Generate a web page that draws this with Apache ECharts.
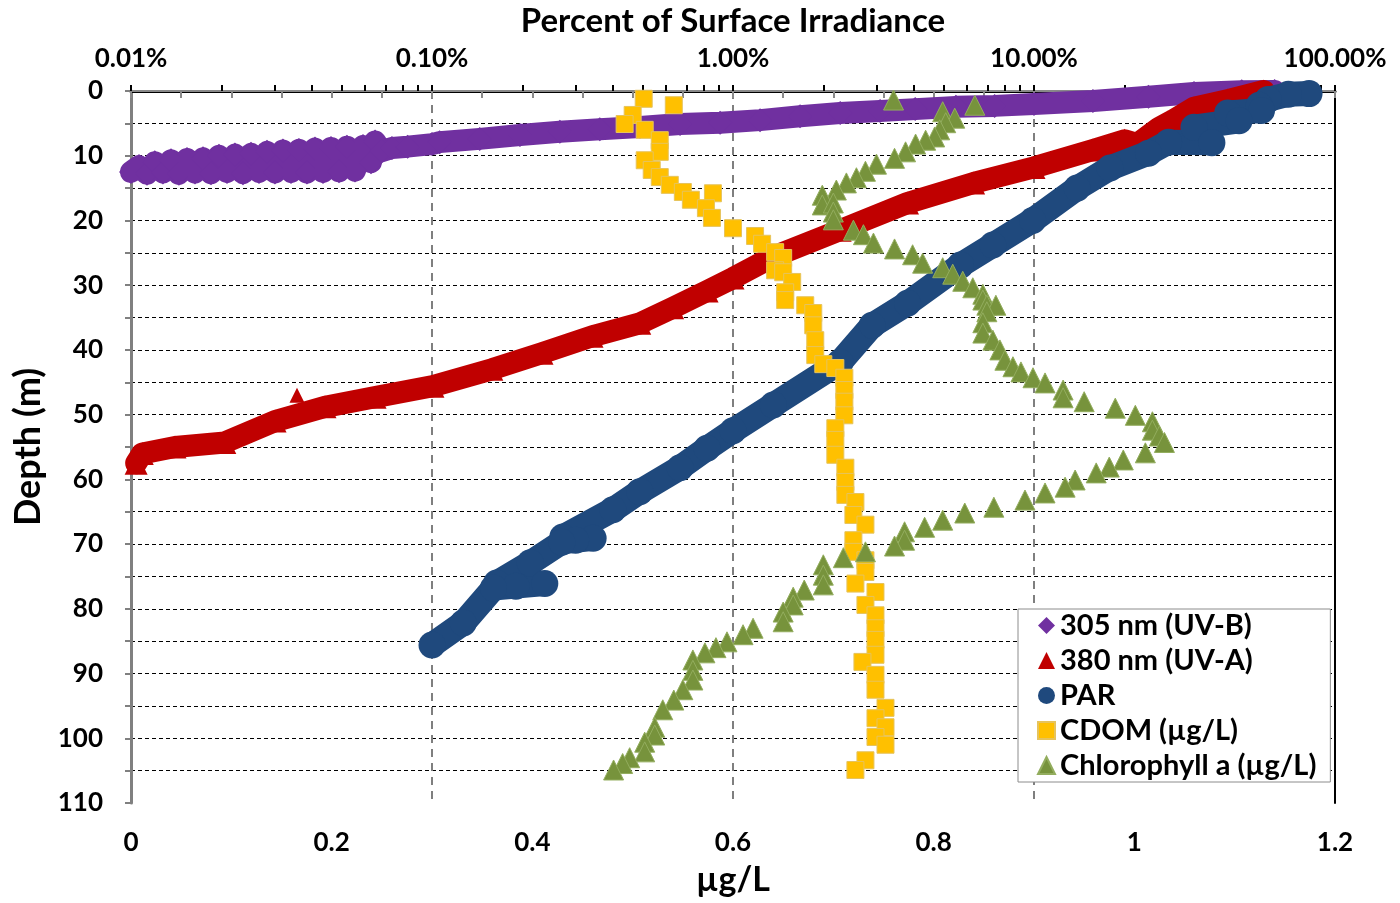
<!DOCTYPE html>
<html>
<head>
<meta charset="utf-8">
<title>Percent of Surface Irradiance</title>
<script src="https://cdn.jsdelivr.net/npm/echarts@6.0.0/dist/echarts.min.js"></script>
<style>
  html, body { margin: 0; padding: 0; background: #fff; }
  #chart { width: 1400px; height: 903px; }
</style>
</head>
<body>
<div id="chart"></div>
<script>
// legend names
const seriesNames = ['305 nm (UV-B)', '380 nm (UV-A)', 'PAR', 'CDOM (\u00b5g/L)', 'Chlorophyll a (\u00b5g/L)']

// top axis ticks (percent of surface irradiance, log)
const topTickValues = [0.01, 0.1, 1, 10, 100]
const topTickLabels = ['0.01%', '0.10%', '1.00%', '10.00%', '100.00%']

// irradiance profiles: [percent, depth m]
const uvbProfile = [
  [0.0100, 12.5], [0.01063, 11.6], [0.0113, 12.8], [0.0120, 11.0], [0.01277, 12.6], [0.01358, 10.7],
  [0.01443, 12.8], [0.01535, 10.5], [0.01632, 12.6], [0.01735, 10.4], [0.01844, 12.7], [0.0196, 10.0],
  [0.02084, 12.5], [0.02215, 9.8], [0.02355, 12.7], [0.02504, 9.7], [0.02662, 12.5], [0.0283, 9.4],
  [0.03008, 12.6], [0.03198, 9.2], [0.034, 12.5], [0.03614, 9.1], [0.03842, 12.6], [0.04085, 8.9],
  [0.04343, 12.5], [0.04617, 8.8], [0.04909, 12.4], [0.05218, 8.6], [0.05548, 12.3], [0.05898, 8.5],
  [0.0627, 11.0], [0.0647, 7.8], [0.068, 9.3], [0.0736, 8.8], [0.083, 8.6], [0.100, 8.2],
  [0.106, 7.9], [0.144, 7.4], [0.196, 6.8], [0.266, 6.3], [0.361, 5.9], [0.491, 5.55], [0.667, 5.1],
  [0.906, 4.9], [1.23, 4.5], [1.67, 3.9], [2.27, 3.4], [3.08, 3.1], [4.03, 2.8], [5.5, 2.45],
  [7.4, 2.3], [10, 2.0], [15.7, 1.55], [24, 0.9], [34, 0.3], [49, 0.05], [63, 0.0]
]
const uvaProfile = [
  [58, 0], [44, 1.4], [34, 2.6], [29, 4.5], [26, 5.7], [22, 8.2], [20, 7.6], [15.7, 9.1],
  [10, 11.8], [6.3, 14.2], [3.8, 17.3], [2.27, 21.5], [1.36, 25.6], [1.0, 28.9], [0.82, 30.9],
  [0.63, 33.5], [0.49, 35.9], [0.34, 37.9], [0.232, 40.5], [0.158, 43.0], [0.1007, 45.6],
  [0.0647, 47.3], [0.0441, 48.8], [0.0301, 51.0], [0.0205, 54.3], [0.0140, 55.0],
  [0.0109, 56.0], [0.0104, 57.5]
]
const uvaOutliers = [[0.0356, 47.0]]
const parProfile = [
  [82, 0.4], [70, 0.5], [60, 1.3], [56, 2.2], [57, 3.0], [44, 3.4], [48, 4.6], [34, 5.6],
  [39, 8.0], [28, 7.9], [24, 9.6], [17.9, 11.9], [13.9, 15.0], [9.9, 20.0], [7.3, 23.8],
  [5.7, 26.9], [3.8, 32.8], [2.9, 36.2], [2.27, 41.9], [1.36, 48.5], [1.0, 52.5], [0.82, 55.2],
  [0.667, 58.2], [0.49, 61.9], [0.399, 64.7], [0.272, 68.9], [0.343, 69.1], [0.30, 69.4],
  [0.27, 69.7], [0.212, 72.9], [0.164, 76.0], [0.237, 76.1], [0.19, 76.5], [0.16, 76.8],
  [0.127, 82.2], [0.100, 85.6]
]

// concentrations: [ug/L, depth m]
const cdomPoints = [
  [0.511, 1.2], [0.541, 2.2], [0.500, 3.7], [0.492, 5.1], [0.512, 6.0], [0.527, 7.6], [0.527, 9.4],
  [0.512, 10.7], [0.519, 12.2], [0.527, 13.3], [0.537, 14.5], [0.550, 15.6], [0.558, 16.8],
  [0.580, 15.8], [0.573, 18.1], [0.579, 19.6], [0.600, 21.2], [0.622, 22.4], [0.629, 23.6],
  [0.642, 24.9], [0.650, 25.8], [0.642, 27.7], [0.650, 28.0], [0.659, 29.5], [0.652, 31.1],
  [0.652, 32.3], [0.672, 33.1], [0.680, 34.3], [0.680, 36.2], [0.682, 38.5], [0.682, 40.8],
  [0.690, 42.2], [0.702, 42.8], [0.711, 44.3], [0.711, 46.2], [0.711, 48.0], [0.711, 50.1],
  [0.702, 52.1], [0.702, 53.9], [0.702, 56.2], [0.712, 58.2], [0.712, 60.4], [0.712, 62.4],
  [0.722, 63.5], [0.720, 65.5], [0.732, 67.0], [0.720, 69.4], [0.720, 71.2], [0.732, 72.5],
  [0.732, 74.3], [0.722, 76.1], [0.742, 77.4], [0.732, 79.4], [0.742, 81.0], [0.742, 83.0],
  [0.742, 84.8], [0.742, 87.1], [0.729, 88.2], [0.742, 90.2], [0.742, 92.5], [0.752, 95.3],
  [0.742, 96.9], [0.752, 98.3], [0.742, 99.8], [0.752, 101.0], [0.732, 103.4], [0.722, 104.9]
]
const chlPoints = [
  [0.760, 1.4], [0.841, 2.2], [0.809, 3.2], [0.821, 4.2], [0.812, 4.9], [0.806, 6.0], [0.801, 7.1],
  [0.792, 7.6], [0.782, 8.2], [0.772, 9.4], [0.761, 10.4], [0.743, 11.3], [0.732, 12.4],
  [0.723, 13.4], [0.713, 14.2], [0.703, 15.3], [0.689, 16.1], [0.689, 17.6], [0.700, 17.3],
  [0.700, 18.7], [0.700, 19.9], [0.720, 21.5], [0.730, 22.2], [0.740, 23.5], [0.761, 24.4],
  [0.779, 25.3], [0.789, 26.6], [0.809, 27.3], [0.819, 28.3], [0.829, 29.4], [0.839, 30.4],
  [0.849, 31.4], [0.849, 32.3], [0.853, 33.1], [0.862, 33.1], [0.853, 34.1], [0.849, 35.8],
  [0.849, 37.4], [0.859, 38.5], [0.866, 40.0], [0.871, 41.6], [0.879, 42.6], [0.887, 43.4],
  [0.899, 44.3], [0.911, 45.1], [0.929, 46.2], [0.929, 47.4], [0.950, 48.0], [0.981, 49.0],
  [1.001, 50.1], [1.018, 51.1], [1.018, 52.4], [1.025, 53.3], [1.030, 54.3], [1.011, 55.9],
  [0.989, 57.0], [0.975, 58.1], [0.962, 59.0], [0.941, 60.1], [0.931, 61.2], [0.911, 62.1],
  [0.891, 63.2], [0.860, 64.3], [0.831, 65.2], [0.809, 66.3], [0.791, 67.4], [0.771, 68.1],
  [0.771, 69.4], [0.761, 70.3], [0.732, 71.2], [0.710, 72.1], [0.690, 73.2], [0.690, 74.8],
  [0.690, 76.3], [0.671, 77.1], [0.660, 78.2], [0.660, 79.4], [0.650, 80.5], [0.650, 82.0],
  [0.620, 83.0], [0.610, 84.0], [0.594, 85.1], [0.583, 86.0], [0.572, 86.8], [0.560, 87.9],
  [0.560, 89.5], [0.560, 91.0], [0.550, 92.5], [0.541, 94.1], [0.530, 95.6], [0.522, 98.3],
  [0.522, 99.5], [0.512, 100.6], [0.512, 102.1], [0.497, 103.0], [0.490, 103.9], [0.481, 104.9]
]

const colors = ['#7030A0', '#C00000', '#1F497D', '#FFC000', '#77933C']
const FONT = 'Lato, "Open Sans", sans-serif'

// minor ticks 2..9 inside each decade of the top axis
const topMinorTicks = []
topTickValues.slice(0, -1).forEach(dec => {
  for (let k = 2; k <= 9; k++) topMinorTicks.push(+(dec * k).toPrecision(3))
})

const chart = echarts.init(document.getElementById('chart'))

const boldText = (size) => ({ fontFamily: FONT, fontWeight: 'bold', fontSize: size, color: '#000' })

const bandSeries = (idx, data, symbol, symbolSize, width) => ({
  name: seriesNames[idx],
  type: 'line',
  xAxisIndex: 0,
  yAxisIndex: 0,
  data: data,
  symbol: symbol,
  symbolSize: symbolSize,
  showSymbol: true,
  clip: false,
  z: 2 + idx,
  lineStyle: { color: colors[idx], width: width, cap: 'round', join: 'round' },
  itemStyle: { color: colors[idx], opacity: 1 }
})

const option = {
  animation: false,
  backgroundColor: '#fff',
  grid: { left: 131, right: 65, top: 91, bottom: 100 },
  legend: {
    orient: 'vertical',
    left: 1018,
    top: 609,
    padding: [2, 14, 2, 19],
    itemGap: 6,
    itemWidth: 17,
    itemHeight: 17,
    borderColor: '#8c8c8c',
    borderWidth: 1,
    backgroundColor: '#fff',
    textStyle: boldText(29),
    data: [
      { name: seriesNames[0], icon: 'diamond' },
      { name: seriesNames[1], icon: 'triangle' },
      { name: seriesNames[2], icon: 'circle' },
      { name: seriesNames[3], icon: 'rect' },
      { name: seriesNames[4], icon: 'triangle' }
    ]
  },
  xAxis: [
    {
      type: 'log',
      logBase: 10,
      position: 'top',
      min: 0.01,
      max: 100,
      name: 'Percent of Surface Irradiance',
      nameLocation: 'middle',
      nameGap: 53,
      nameTextStyle: boldText(33),
      axisLine: { show: true, lineStyle: { color: '#000', width: 3 } },
      axisTick: { show: true, length: 6, lineStyle: { color: '#000', width: 2 } },
      axisLabel: {
        margin: 19,
        ...boldText(26),
        formatter: v => topTickLabels[topTickValues.findIndex(t => Math.abs(Math.log10(t) - Math.log10(v)) < 1e-6)] || ''
      },
      splitLine: {
        show: true,
        showMinLine: false,
        showMaxLine: false,
        lineStyle: { color: '#7f7f7f', width: 2, type: [8, 6] }
      }
    },
    {
      type: 'value',
      position: 'bottom',
      min: 0,
      max: 1.2,
      interval: 0.2,
      name: '\u00b5g/L',
      nameLocation: 'middle',
      nameGap: 60,
      nameTextStyle: boldText(34),
      axisLine: { show: true, lineStyle: { color: '#898989', width: 2 } },
      axisTick: { show: true, length: 7, lineStyle: { color: '#898989', width: 2 } },
      minorTick: { show: true, splitNumber: 4, length: 7, lineStyle: { color: '#898989', width: 2 } },
      axisLabel: { margin: 27, ...boldText(26) },
      splitLine: { show: false }
    },
    {
      // minor ticks only for the log axis
      type: 'log',
      logBase: 10,
      position: 'top',
      min: 0.01,
      max: 100,
      axisLine: { show: false },
      axisTick: { show: true, length: 6, customValues: topMinorTicks, lineStyle: { color: '#000', width: 2 } },
      axisLabel: { show: false },
      splitLine: { show: false }
    }
  ],
  yAxis: [
    {
      type: 'value',
      inverse: true,
      min: 0,
      max: 110,
      interval: 10,
      name: 'Depth (m)',
      nameLocation: 'middle',
      nameGap: 84,
      nameRotate: 90,
      nameTextStyle: boldText(36),
      axisLine: { show: true, lineStyle: { color: '#808080', width: 3 } },
      axisTick: { show: true, length: 6, lineStyle: { color: '#808080', width: 2 } },
      minorTick: { show: true, splitNumber: 2, length: 6, lineStyle: { color: '#808080', width: 2 } },
      axisLabel: { margin: 28, ...boldText(26) },
      splitLine: {
        show: true,
        showMinLine: false,
        showMaxLine: false,
        lineStyle: { color: '#000', width: 1, type: [4, 3] }
      },
      minorSplitLine: { show: true, lineStyle: { color: '#000', width: 1, type: [4, 3] } }
    },
    {
      // right border
      type: 'value',
      position: 'right',
      inverse: true,
      min: 0,
      max: 110,
      axisLine: { show: true, lineStyle: { color: '#000', width: 2 } },
      axisTick: { show: false },
      axisLabel: { show: false },
      splitLine: { show: false }
    }
  ],
  series: [
    bandSeries(0, uvbProfile, 'diamond', 24, 22),
    bandSeries(1, uvaProfile, 'triangle', 23, 22),
    {
      name: seriesNames[1],
      type: 'scatter',
      xAxisIndex: 0,
      yAxisIndex: 0,
      data: uvaOutliers,
      symbol: 'triangle',
      symbolSize: 15,
      z: 3,
      itemStyle: { color: colors[1], opacity: 1 }
    },
    bandSeries(2, parProfile, 'circle', 27, 25),
    {
      name: seriesNames[3],
      type: 'scatter',
      xAxisIndex: 1,
      yAxisIndex: 0,
      data: cdomPoints,
      symbol: 'rect',
      symbolSize: 17,
      z: 5,
      itemStyle: { color: colors[3], opacity: 1, borderColor: '#e6c35c', borderWidth: 1 }
    },
    {
      name: seriesNames[4],
      type: 'scatter',
      xAxisIndex: 1,
      yAxisIndex: 0,
      data: chlPoints,
      symbol: 'triangle',
      symbolSize: 20,
      z: 6,
      itemStyle: { color: colors[4], opacity: 1, borderColor: '#93ad5e', borderWidth: 1 }
    }
  ]
}

chart.setOption(option)
</script>
</body>
</html>
